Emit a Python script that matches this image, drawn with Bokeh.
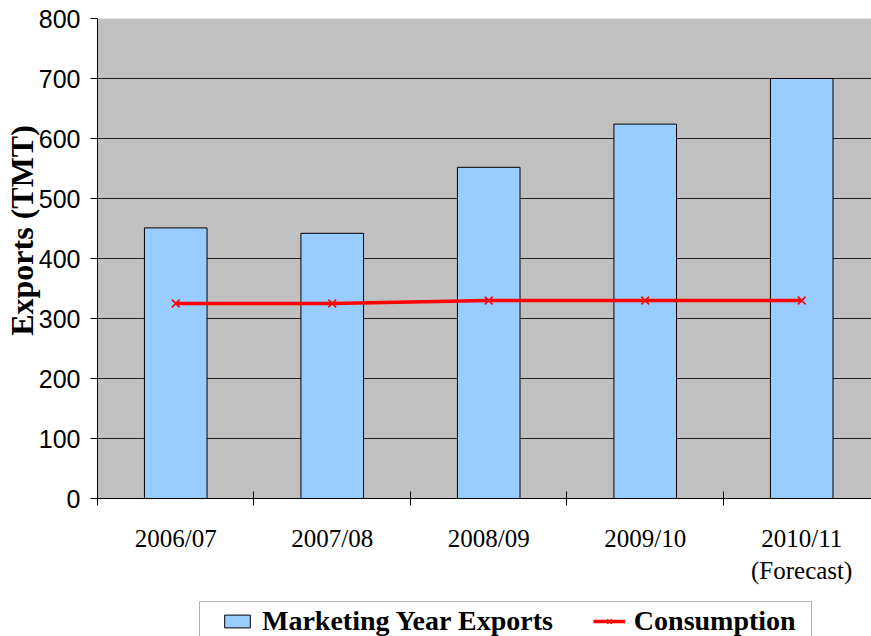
from bokeh.plotting import figure
from bokeh.layouts import column
from bokeh.models import (Range1d, FixedTicker, Legend, LegendItem, ColumnDataSource,
                          BoxAnnotation)
from bokeh.embed import file_html
from bokeh.resources import INLINE

categories = ["2006/07", "2007/08", "2008/09", "2009/10", "2010/11"]
tick_labels = ["2006/07", "2007/08", "2008/09", "2009/10", "2010/11\n(Forecast)"]
exports = [451, 442, 552, 624, 700]
consumption = [325, 325, 330, 330, 330]
y_ticks = [0, 100, 200, 300, 400, 500, 600, 700, 800]
series_names = ["Marketing Year Exports", "Consumption"]
y_title = "Exports (TMT)"

n = len(categories)
centers = [i + 0.5 for i in range(n)]
bounds = [float(i) for i in range(n)]

src = ColumnDataSource(dict(x=centers, exp=exports, cons=consumption, cat=categories))

BAR_FILL = "#99CCFF"
RED = "#FF0000"

p = figure(width=871, height=600, output_backend="svg", toolbar_location=None,
           x_range=Range1d(0, 4.946), y_range=Range1d(0, 800),
           min_border_left=97, min_border_right=0, min_border_top=18, min_border_bottom=102)
p.background_fill_color = "#C0C0C0"
p.border_fill_color = "white"
p.outline_line_color = None

p.vbar(x="x", top="exp", width=0.4, source=src, fill_color=BAR_FILL,
       line_color="black", line_width=1)
p.line(x="x", y="cons", source=src, line_color=RED, line_width=3.5)
p.scatter(x="x", y="cons", source=src, marker="x", size=11,
          line_color=RED, line_width=1.5)

# axes
p.xaxis.ticker = FixedTicker(ticks=centers, minor_ticks=bounds)
p.xaxis.major_label_overrides = {c: t for c, t in zip(centers, tick_labels)}
p.xaxis.major_tick_line_color = None
p.xaxis.major_tick_in = 0
p.xaxis.major_tick_out = 0
p.xaxis.minor_tick_in = 7
p.xaxis.minor_tick_out = 7
p.xaxis.minor_tick_line_color = "black"
p.xaxis.axis_line_color = "black"
p.xaxis.major_label_text_font = "Liberation Serif"
p.xaxis.major_label_text_font_size = "25px"
p.xaxis.major_label_text_color = "black"
p.xaxis.major_label_standoff = 19

p.yaxis.ticker = FixedTicker(ticks=y_ticks)
p.yaxis.major_tick_in = 0
p.yaxis.major_tick_out = 7
p.yaxis.major_tick_line_color = "black"
p.yaxis.minor_tick_line_color = None
p.yaxis.axis_line_color = "black"
p.yaxis.major_label_text_font = "Liberation Sans"
p.yaxis.major_label_text_font_size = "25px"
p.yaxis.major_label_text_color = "black"
p.yaxis.major_label_standoff = 10
# leading non-breaking spaces lift the centred title to where the reference has it
p.yaxis.axis_label = "\u00a0" * 7 + y_title
p.yaxis.axis_label_text_font = "Liberation Serif"
p.yaxis.axis_label_text_font_style = "bold"
p.yaxis.axis_label_text_font_size = "32px"
p.yaxis.axis_label_text_color = "black"
p.yaxis.axis_label_standoff = -4

p.xgrid.grid_line_color = None
p.ygrid.grid_line_color = "#222222"
p.ygrid.grid_line_width = 1

# legend strip below the chart (frame aligned with the chart frame: x 97..871 px)
lf = figure(width=871, height=36, output_backend="svg", toolbar_location=None,
            x_range=Range1d(97, 871), y_range=Range1d(0, 36),
            x_axis_type=None, y_axis_type=None,
            min_border_left=0, min_border_right=0, min_border_top=0, min_border_bottom=0)
lf.outline_line_color = None
lf.background_fill_color = "white"
lf.border_fill_color = "white"
lb = lf.vbar(x="x", top="exp", width=0.4, source=src, fill_color=BAR_FILL,
             line_color="black", line_width=1, visible=False)
ll = lf.line(x="x", y="cons", source=src, line_color=RED, line_width=3.5, visible=False)
lm = lf.scatter(x="x", y="cons", source=src, marker="x", size=10,
                line_color=RED, line_width=1.5, visible=False)

lf.add_layout(BoxAnnotation(left=199, right=811, bottom=-10, top=35,
                            fill_color="white", fill_alpha=1,
                            line_color="black", line_width=1))

legend = Legend(items=[LegendItem(label=series_names[0], renderers=[lb]),
                       LegendItem(label=series_names[1], renderers=[ll, lm])],
                orientation="horizontal", location=(124, -1),
                label_text_font="Liberation Serif", label_text_font_style="bold",
                label_text_font_size="28px", label_text_color="black",
                glyph_width=32, glyph_height=16, label_standoff=9, spacing=40,
                padding=4, margin=0, border_line_color=None,
                background_fill_alpha=0, inactive_fill_alpha=0)
lf.add_layout(legend, "center")

layout = column(p, lf, spacing=0)
open("out.html", "w").write(file_html(layout, INLINE))
